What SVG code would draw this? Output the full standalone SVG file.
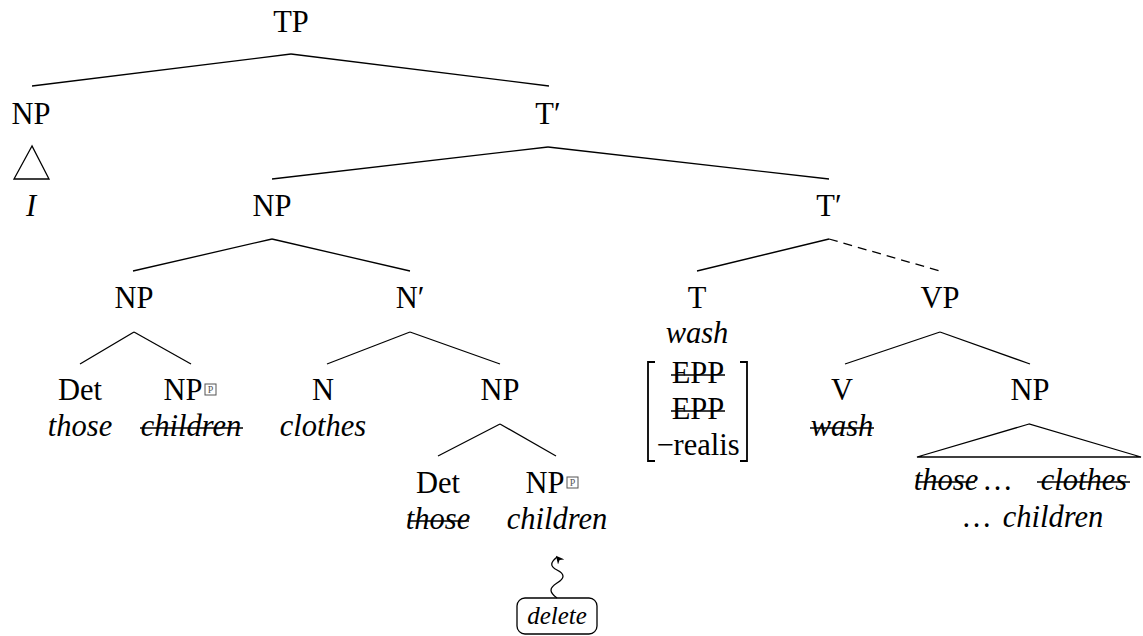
<svg xmlns="http://www.w3.org/2000/svg" width="1143" height="636" viewBox="0 0 1143 636">
  <defs>
    <style>
      text { font-family: "Liberation Serif", "DejaVu Serif", serif; font-size: 30.5px; fill: #000; text-anchor: middle; }
      .it { font-style: italic; }
      .edge { stroke: #000; stroke-width: 1.3; fill: none; }
      .dash { stroke-dasharray: 9 6; }
      .strike { stroke: #000; stroke-width: 1.3; }
      .brk { stroke: #000; stroke-width: 1.8; fill: none; }
      .pbox { fill: #fff; stroke: #555; stroke-width: 1; }
      .ptext { font-size: 10px; fill: #555; }
    </style>
    <marker id="arrow" viewBox="0 0 10 10" refX="5" refY="2" markerWidth="8" markerHeight="8" orient="auto-start-reverse" markerUnits="userSpaceOnUse">
      <path d="M0,10 L5,0 L10,10 L5,7 Z" fill="#000"/>
    </marker>
  </defs>

  <!-- branches -->
  <g id="connectors">
    <line class="edge" x1="291" y1="54" x2="32" y2="86"/>
    <line class="edge" x1="291" y1="54" x2="549" y2="86"/>
    <polygon class="edge" points="32,146 14,179 49,179"/>
    <line class="edge" x1="548" y1="147" x2="272" y2="179"/>
    <line class="edge" x1="548" y1="147" x2="829" y2="179"/>
    <line class="edge" x1="272" y1="239" x2="133" y2="271"/>
    <line class="edge" x1="272" y1="239" x2="410" y2="271"/>
    <line class="edge" x1="829" y1="239" x2="697" y2="271"/>
    <line class="edge dash" x1="829" y1="239" x2="940" y2="271"/>
    <line class="edge" x1="134" y1="332" x2="80" y2="364"/>
    <line class="edge" x1="134" y1="332" x2="191" y2="364"/>
    <line class="edge" x1="410" y1="332" x2="327" y2="364"/>
    <line class="edge" x1="410" y1="332" x2="500" y2="364"/>
    <line class="edge" x1="940" y1="332" x2="845" y2="364"/>
    <line class="edge" x1="940" y1="332" x2="1030" y2="364"/>
    <line class="edge" x1="500" y1="424" x2="438" y2="456"/>
    <line class="edge" x1="500" y1="424" x2="556" y2="456"/>
    <polygon class="edge" points="1029,424 917,457 1141,457"/>
    <!-- wavy pointer from the delete tag -->
    <path class="edge" marker-end="url(#arrow)" d="M557,598 C549,592 549,588 557,583 C565,578 565,574 557,570 C549,566 551,562 557,557"/>
  </g>

  <g id="n-tp"><text x="291" y="32">TP</text></g>
  <g id="n-np-subj"><text x="31" y="124">NP</text><text class="it" x="31" y="216">I</text></g>
  <g id="n-tbar1"><text x="548" y="124">T′</text></g>
  <g id="n-np-obj"><text x="272" y="216">NP</text></g>
  <g id="n-tbar2"><text x="829" y="216">T′</text></g>
  <g id="n-np-poss"><text x="134" y="308">NP</text></g>
  <g id="n-nbar"><text x="410" y="308">N′</text></g>
  <g id="n-t">
    <text x="697" y="308">T</text>
    <text class="it" x="697" y="343">wash</text>
    <path class="brk" d="M655,362 H648 V461 H655"/>
    <path class="brk" d="M740,362 H747 V461 H740"/>
    <text x="698" y="383">EPP</text>
    <line class="strike" x1="671" y1="375" x2="725" y2="375"/>
    <text x="698" y="419">EPP</text>
    <line class="strike" x1="671" y1="411" x2="725" y2="411"/>
    <text x="698" y="455">−realis</text>
  </g>
  <g id="n-vp"><text x="940" y="308">VP</text></g>

  <g id="n-det1"><text x="80" y="400">Det</text><text class="it" x="80" y="436">those</text></g>
  <g id="n-np-children1">
    <text x="183" y="400">NP</text>
    <rect class="pbox" x="205" y="384" width="11" height="11"/>
    <text class="ptext" x="210.5" y="393">P</text>
    <text class="it" x="191" y="436">children</text>
    <line class="strike" x1="140" y1="428" x2="243" y2="428"/>
  </g>
  <g id="n-n"><text x="323" y="400">N</text><text class="it" x="323" y="436">clothes</text></g>
  <g id="n-np-inner"><text x="500" y="400">NP</text></g>
  <g id="n-v">
    <text x="842" y="400">V</text>
    <text class="it" x="842" y="436">wash</text>
    <line class="strike" x1="810" y1="428" x2="874" y2="428"/>
  </g>
  <g id="n-np-vp">
    <text x="1030" y="400">NP</text>
    <text class="it" x="946" y="490">those</text>
    <line class="strike" x1="916" y1="482" x2="975" y2="482"/>
    <text class="it" x="998" y="490">…</text>
    <text class="it" x="1084" y="490">clothes</text>
    <line class="strike" x1="1037" y1="482" x2="1130" y2="482"/>
    <text class="it" x="977" y="527">…</text>
    <text class="it" x="1053" y="527">children</text>
  </g>

  <g id="n-det2">
    <text x="438" y="493">Det</text>
    <text class="it" x="438" y="529">those</text>
    <line class="strike" x1="408" y1="521" x2="469" y2="521"/>
  </g>
  <g id="n-np-children2">
    <text x="545" y="493">NP</text>
    <rect class="pbox" x="567" y="477" width="11" height="11"/>
    <text class="ptext" x="572.5" y="486">P</text>
    <text class="it" x="557" y="529">children</text>
  </g>

  <g id="n-delete">
    <rect class="edge" x="517" y="598" width="80" height="36" rx="8" ry="8"/>
    <text class="it" x="557" y="624" style="font-size:25px">delete</text>
  </g>
</svg>
